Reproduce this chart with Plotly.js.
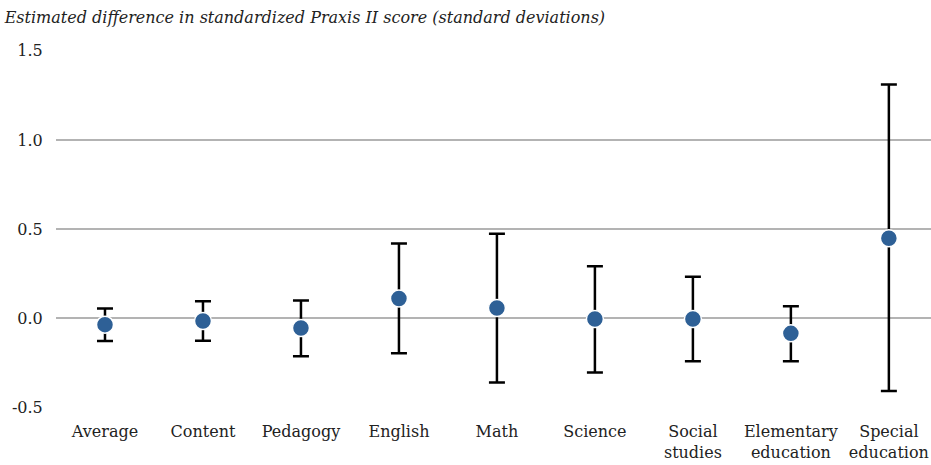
<!DOCTYPE html>
<html>
<head>
<meta charset="utf-8">
<script src="https://cdn.plot.ly/plotly-3.0.1.min.js"></script>
<style>html,body{margin:0;padding:0;background:#fff;}#chart{width:931px;height:465px;}</style>
</head>
<body>
<div id="chart"></div>
<script>
const categories = ["Average", "Content", "Pedagogy", "English", "Math", "Science", "Social<br>studies", "Elementary<br>education", "Special<br>education"];
const estimates = [-0.037, -0.017, -0.056, 0.110, 0.056, -0.005, -0.005, -0.086, 0.448];
const upperBounds = [0.053, 0.095, 0.099, 0.418, 0.473, 0.291, 0.232, 0.066, 1.312];
const lowerBounds = [-0.129, -0.127, -0.214, -0.198, -0.362, -0.306, -0.242, -0.242, -0.410];
const yTicks = [-0.5, 0.0, 0.5, 1.0, 1.5];
const yTickLabels = ["-0.5", "0.0", "0.5", "1.0", "1.5"];
const titleText = "Estimated difference in standardized Praxis II score (standard deviations)";

const plus = upperBounds.map((u, i) => u - estimates[i]);
const minus = lowerBounds.map((l, i) => estimates[i] - l);

const font = "DejaVu Serif, serif";

const trace = {
  type: "scatter",
  mode: "markers",
  x: categories,
  y: estimates,
  marker: {size: 17, color: "#2e6096", line: {color: "#ffffff", width: 1.5}},
  error_y: {type: "data", symmetric: false, array: plus, arrayminus: minus, color: "#000000", thickness: 2.5, width: 8},
  hoverinfo: "skip"
};

const layout = {
  width: 931, height: 465,
  margin: {l: 56, r: 0, t: 50, b: 57},
  paper_bgcolor: "#ffffff", plot_bgcolor: "#ffffff",
  showlegend: false,
  font: {family: font, size: 16, color: "#222222"},
  title: {text: "<i>" + titleText + "</i>", x: 0.005, xanchor: "left", y: 0.963, yanchor: "middle", font: {family: font, size: 16, color: "#222222"}},
  xaxis: {
    type: "category", range: [-0.5, 8.43], showgrid: false, zeroline: false, showline: false,
    ticks: "outside", ticklen: 9, tickcolor: "rgba(0,0,0,0)",
    tickfont: {family: font, size: 16, color: "#222222"}, fixedrange: true
  },
  yaxis: {
    range: [-0.505, 1.505], tickvals: yTicks, ticktext: yTickLabels,
    showgrid: true, gridcolor: "#b3b3b3", gridwidth: 1.3,
    zeroline: true, zerolinecolor: "#b3b3b3", zerolinewidth: 1.3, showline: false,
    ticks: "outside", ticklen: 9, tickcolor: "rgba(0,0,0,0)",
    tickfont: {family: font, size: 16, color: "#222222"}, fixedrange: true
  }
};

Plotly.newPlot("chart", [trace], layout, {displayModeBar: false, staticPlot: true});
</script>
</body>
</html>
